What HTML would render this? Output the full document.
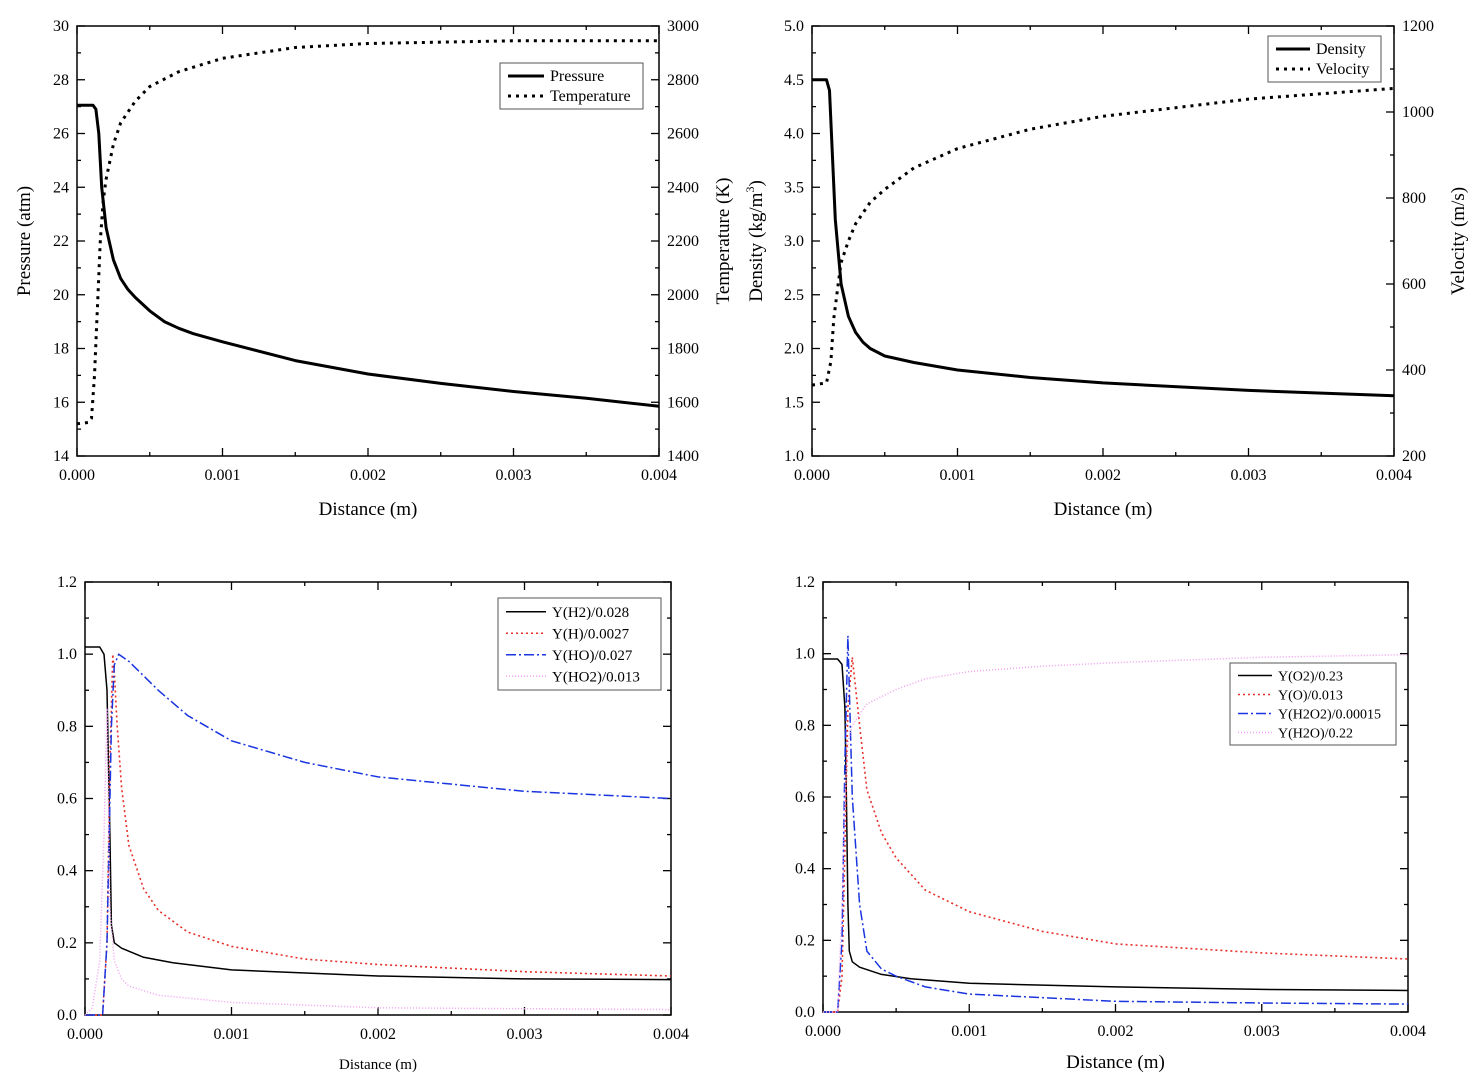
<!DOCTYPE html>
<html><head><meta charset="utf-8">
<style>
html,body{margin:0;padding:0;background:#fff;}
svg{display:block;font-family:"Liberation Serif",serif;}
</style></head>
<body>
<svg id="fig" width="1478" height="1080" viewBox="0 0 1478 1080" xmlns="http://www.w3.org/2000/svg"></svg>
<script>
// ---- Panel 1: pressure / temperature ----
const p1PressX=[0,0.00008,0.00011,0.00013,0.00015,0.00017,0.0002,0.00025,0.0003,0.00035,0.0004,0.0005,0.0006,0.0007,0.0008,0.001,0.0015,0.002,0.0025,0.003,0.0035,0.004];
const p1PressY=[27.05,27.05,27.05,26.9,26,24,22.5,21.3,20.6,20.2,19.9,19.4,19.0,18.75,18.55,18.25,17.55,17.05,16.7,16.4,16.15,15.85];
const p1TempX=[0,0.00008,0.0001,0.00012,0.00014,0.00016,0.00018,0.0002,0.00025,0.0003,0.0004,0.0005,0.0007,0.001,0.0015,0.002,0.003,0.004];
const p1TempY=[1520,1525,1540,1700,1950,2200,2350,2430,2560,2640,2720,2775,2830,2880,2920,2935,2945,2945];
// ---- Panel 2: density / velocity ----
const p2DensX=[0,0.0001,0.00012,0.00014,0.00016,0.0002,0.00025,0.0003,0.00035,0.0004,0.0005,0.0007,0.001,0.0015,0.002,0.003,0.004];
const p2DensY=[4.5,4.5,4.4,3.8,3.2,2.6,2.3,2.15,2.06,2.0,1.93,1.87,1.8,1.73,1.68,1.61,1.56];
const p2VelX=[0,0.0001,0.00013,0.00015,0.00018,0.0002,0.00025,0.0003,0.0004,0.0005,0.0007,0.001,0.0015,0.002,0.003,0.004];
const p2VelY=[365,370,420,520,600,650,700,740,790,820,870,915,960,990,1030,1055];
// ---- Panel 3 ----
const p3H2X=[0,0.0001,0.00013,0.00015,0.00017,0.00018,0.0002,0.00025,0.0004,0.0006,0.001,0.002,0.003,0.004];
const p3H2Y=[1.02,1.02,1.0,0.9,0.5,0.25,0.2,0.185,0.16,0.145,0.125,0.108,0.1,0.098];
const p3HX=[0,0.00012,0.00015,0.00017,0.00019,0.0002,0.00022,0.00025,0.0003,0.0004,0.0005,0.0007,0.001,0.0015,0.002,0.003,0.004];
const p3HY=[0,0,0.2,0.7,1.0,0.95,0.8,0.63,0.47,0.35,0.29,0.23,0.19,0.155,0.14,0.12,0.108];
const p3HOX=[0,0.00012,0.00015,0.00018,0.0002,0.00023,0.0003,0.0005,0.0007,0.001,0.0015,0.002,0.003,0.004];
const p3HOY=[0,0,0.2,0.8,0.97,1.0,0.98,0.9,0.83,0.76,0.7,0.66,0.62,0.6];
const p3HO2X=[0,0.00005,0.0001,0.00013,0.00015,0.00017,0.0002,0.00025,0.0003,0.0005,0.001,0.002,0.004];
const p3HO2Y=[0,0.02,0.15,0.5,0.85,0.3,0.15,0.1,0.08,0.055,0.035,0.02,0.015];
// ---- Panel 4 ----
const p4O2X=[0,0.0001,0.00013,0.00015,0.00016,0.00017,0.00018,0.0002,0.00025,0.0004,0.0006,0.001,0.002,0.003,0.004];
const p4O2Y=[0.985,0.985,0.97,0.85,0.6,0.3,0.17,0.14,0.125,0.105,0.093,0.08,0.07,0.063,0.06];
const p4OX=[0,0.0001,0.00013,0.00015,0.00017,0.0002,0.00025,0.0003,0.0004,0.0005,0.0007,0.001,0.0015,0.002,0.003,0.004];
const p4OY=[0,0,0.1,0.45,0.85,0.99,0.8,0.62,0.5,0.43,0.34,0.28,0.225,0.19,0.165,0.148];
const p4H2O2X=[0,0.0001,0.00013,0.00015,0.00017,0.00018,0.0002,0.00025,0.0003,0.0004,0.0005,0.0007,0.001,0.002,0.003,0.004];
const p4H2O2Y=[0,0,0.2,0.7,1.05,0.9,0.6,0.3,0.17,0.12,0.1,0.07,0.05,0.03,0.025,0.022];
const p4H2OX=[0,0.0001,0.00013,0.00015,0.00017,0.0002,0.00025,0.0003,0.0005,0.0007,0.001,0.0015,0.002,0.003,0.004];
const p4H2OY=[0,0,0.3,0.6,0.75,0.8,0.83,0.86,0.9,0.93,0.95,0.965,0.975,0.99,0.997];
const xTickLabels=["0.000","0.001","0.002","0.003","0.004"];

const NS="http://www.w3.org/2000/svg";
const svg=document.getElementById("fig");
function mk(tag,attrs,parent){const e=document.createElementNS(NS,tag);for(const k in attrs)e.setAttribute(k,attrs[k]);(parent||svg).appendChild(e);return e;}
function txt(s,x,y,size,anchor,parent,rot){const t=mk("text",{x:x,y:y,"font-size":size,"text-anchor":anchor||"middle",fill:"#000"},parent);if(rot)t.setAttribute("transform","rotate(-90 "+x+" "+y+")");t.textContent=s;return t;}

function panel(c){
  const g=mk("g",{});
  
  
  const sx=v=>c.x0+(v-0)/0.004*(c.x1-c.x0);
  const syL=v=>c.y1-(v-c.yMin)/(c.yMax-c.yMin)*(c.y1-c.y0);
  const syR=c.rMax!==undefined?(v=>c.y1-(v-c.rMin)/(c.rMax-c.rMin)*(c.y1-c.y0)):null;
  const fr=mk("rect",{x:c.x0,y:c.y0,width:c.x1-c.x0,height:c.y1-c.y0,fill:"none",stroke:"#000","stroke-width":1.5},g);
  
  
  for(let i=0;i<=8;i++){const v=i*0.0005;const X=sx(v);const L=i%2?4:8;
    mk("line",{x1:X,y1:c.y1,x2:X,y2:c.y1-L,stroke:"#000","stroke-width":1.3},g);
    mk("line",{x1:X,y1:c.y0,x2:X,y2:c.y0+L,stroke:"#000","stroke-width":1.3},g);
    if(i%2===0){const t=txt(xTickLabels[i/2],X,c.y1+24,16,"middle",g);
      
      }}
  const n=Math.round((c.yMax-c.yMin)/c.yMinor);
  for(let i=0;i<=n;i++){const v=c.yMin+i*c.yMinor;const Y=syL(v);const major=i%2===0;const L=major?8:4;
    mk("line",{x1:c.x0,y1:Y,x2:c.x0+L,y2:Y,stroke:"#000","stroke-width":1.3},g);
    if(!syR) mk("line",{x1:c.x1,y1:Y,x2:c.x1-L,y2:Y,stroke:"#000","stroke-width":1.3},g);
    if(major){const t=txt(v.toFixed(c.yDec),c.x0-8,Y+5,16,"end",g);
      
      }}
  if(syR){const m=Math.round((c.rMax-c.rMin)/c.rMinor);
    for(let i=0;i<=m;i++){const v=c.rMin+i*c.rMinor;const Y=syR(v);const major=i%2===0;const L=major?8:4;
      mk("line",{x1:c.x1,y1:Y,x2:c.x1-L,y2:Y,stroke:"#000","stroke-width":1.3},g);
      if(major){const t=txt(String(v),c.x1+8,Y+5,16,"start",g);
        
        }}}
  c.series.forEach(s=>{const f=s.right?syR:syL;
    const pts=s.xs.map((x,i)=>sx(x).toFixed(1)+","+f(s.ys[i]).toFixed(1)).join(" ");
    const pl=mk("polyline",{points:pts,fill:"none",stroke:s.color,"stroke-width":s.w,"stroke-dasharray":s.dash||"none","stroke-linejoin":"round"},g);
    
    });
  const lg=c.legend;const lgG=mk("g",{},g);
  
  
  mk("rect",{x:lg.x,y:lg.y,width:lg.w,height:lg.rowH*c.series.length+6,fill:"#fff",stroke:"#555","stroke-width":1},lgG);
  c.series.forEach((s,i)=>{const Y=lg.y+3+lg.rowH*(i+0.5);
    const e=mk("g",{},lgG);
    
    
    mk("line",{x1:lg.x+8,y1:Y,x2:lg.x+lg.lineW,y2:Y,stroke:s.color,"stroke-width":s.w,"stroke-dasharray":s.dash||"none"},e);
    txt(s.label,lg.x+lg.lineW+6,Y+5,lg.fs,"start",e);});
  const xt=txt("Distance (m)",(c.x0+c.x1)/2,c.xtY,c.xtFs,"middle",g);
  
  
  if(c.ytL){const t=txt(c.ytL,c.ytLx,(c.y0+c.y1)/2,19,"middle",g,true);
    
    }
  if(c.ytR){const t=txt(c.ytR,c.ytRx,(c.y0+c.y1)/2,19,"middle",g,true);
    
    }
}

panel({name:"pressure-temperature-chart",x0:77,x1:659,y0:26,y1:456,yMin:14,yMax:30,yMinor:1,yDec:0,rMin:1400,rMax:3000,rMinor:100,
  xtY:515,xtFs:19,ytL:"Pressure (atm)",ytLx:30,ytR:"Temperature (K)",ytRx:729,
  legend:{x:500,y:63,w:143,rowH:20,lineW:44,fs:16},
  series:[{id:"pressure-line",label:"Pressure",xs:p1PressX,ys:p1PressY,color:"#000",w:3},
          {id:"temperature-line",label:"Temperature",xs:p1TempX,ys:p1TempY,color:"#000",w:3,dash:"3,5",right:true}]});
panel({name:"density-velocity-chart",x0:812,x1:1394,y0:26,y1:456,yMin:1,yMax:5,yMinor:0.25,yDec:1,rMin:200,rMax:1200,rMinor:100,
  xtY:515,xtFs:19,ytR:"Velocity (m/s)",ytRx:1464,
  legend:{x:1268,y:36,w:113,rowH:20,lineW:42,fs:16},
  series:[{id:"density-line",label:"Density",xs:p2DensX,ys:p2DensY,color:"#000",w:3},
          {id:"velocity-line",label:"Velocity",xs:p2VelX,ys:p2VelY,color:"#000",w:3,dash:"3,5",right:true}]});
(function(){const t=mk("text",{x:762,y:241,"font-size":19,"text-anchor":"middle",transform:"rotate(-90 762 241)"});
  
  
  t.innerHTML='Density (kg/m<tspan dy="-8" font-size="12">3</tspan><tspan dy="8">)</tspan>';})();
panel({name:"species-h-chart",x0:85,x1:671,y0:582,y1:1015,yMin:0,yMax:1.2,yMinor:0.1,yDec:1,
  xtY:1069,xtFs:15,
  legend:{x:498,y:598,w:163,rowH:21.5,lineW:48,fs:15},
  series:[{id:"y-h2-line",label:"Y(H2)/0.028",xs:p3H2X,ys:p3H2Y,color:"#000",w:1.5},
          {id:"y-h-line",label:"Y(H)/0.0027",xs:p3HX,ys:p3HY,color:"#e8302a",w:1.6,dash:"2,3"},
          {id:"y-ho-line",label:"Y(HO)/0.027",xs:p3HOX,ys:p3HOY,color:"#1a35e0",w:1.5,dash:"10,3,2,3"},
          {id:"y-ho2-line",label:"Y(HO2)/0.013",xs:p3HO2X,ys:p3HO2Y,color:"#f0a0f0",w:1.5,dash:"1,2"}]});
panel({name:"species-o-chart",x0:823,x1:1408,y0:582,y1:1012,yMin:0,yMax:1.2,yMinor:0.1,yDec:1,
  xtY:1068,xtFs:19,
  legend:{x:1230,y:663,w:166,rowH:19,lineW:42,fs:14},
  series:[{id:"y-o2-line",label:"Y(O2)/0.23",xs:p4O2X,ys:p4O2Y,color:"#000",w:1.5},
          {id:"y-o-line",label:"Y(O)/0.013",xs:p4OX,ys:p4OY,color:"#e8302a",w:1.6,dash:"2,3"},
          {id:"y-h2o2-line",label:"Y(H2O2)/0.00015",xs:p4H2O2X,ys:p4H2O2Y,color:"#1a35e0",w:1.5,dash:"10,3,2,3"},
          {id:"y-h2o-line",label:"Y(H2O)/0.22",xs:p4H2OX,ys:p4H2OY,color:"#f0a0f0",w:1.5,dash:"1,2"}]});
</script>
</body></html>
